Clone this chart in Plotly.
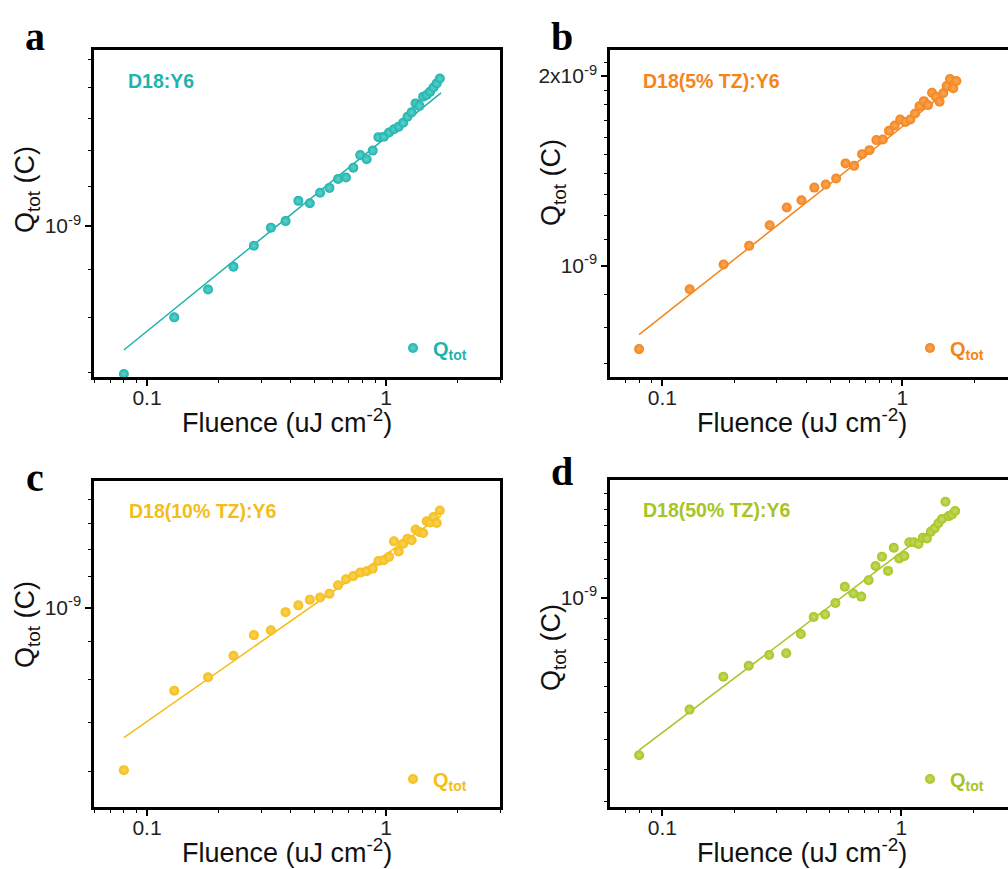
import plotly.graph_objects as go
import numpy as np

W, H = 1008, 869

# Fluence (uJ cm^-2), shared by all four panels
fluence = [0.08, 0.13, 0.18, 0.23, 0.28, 0.33, 0.38, 0.43, 0.48, 0.53, 0.58,
           0.63, 0.68, 0.73, 0.78, 0.83, 0.88, 0.93, 0.98, 1.03, 1.08, 1.13,
           1.18, 1.23, 1.28, 1.33, 1.38, 1.43, 1.48, 1.53, 1.58, 1.63, 1.68]

# Q_tot in units of 1e-9 C
q_a = [0.698, 0.801, 0.857, 0.906, 0.953, 0.996, 1.012, 1.063, 1.057, 1.084, 1.097,
       1.121, 1.125, 1.152, 1.188, 1.176, 1.201, 1.241, 1.242, 1.255, 1.265, 1.273,
       1.285, 1.304, 1.318, 1.347, 1.339, 1.369, 1.375, 1.386, 1.400, 1.414, 1.431]
q_b = [0.738, 0.918, 1.005, 1.076, 1.160, 1.238, 1.271, 1.331, 1.346, 1.376, 1.454,
       1.441, 1.504, 1.526, 1.583, 1.587, 1.638, 1.670, 1.707, 1.692, 1.707, 1.745,
       1.792, 1.825, 1.799, 1.882, 1.855, 1.821, 1.878, 1.929, 1.979, 1.913, 1.965]
q_c = [0.603, 0.772, 0.805, 0.861, 0.918, 0.932, 0.986, 1.007, 1.025, 1.032, 1.044,
       1.072, 1.092, 1.103, 1.115, 1.120, 1.129, 1.156, 1.159, 1.171, 1.229, 1.191,
       1.220, 1.239, 1.233, 1.275, 1.265, 1.261, 1.308, 1.303, 1.326, 1.301, 1.353]
q_d = [0.673, 0.755, 0.820, 0.843, 0.866, 0.870, 0.913, 0.953, 0.959, 0.987, 1.028,
       1.011, 1.003, 1.045, 1.083, 1.109, 1.070, 1.134, 1.104, 1.111, 1.150, 1.150,
       1.145, 1.163, 1.161, 1.181, 1.191, 1.206, 1.219, 1.273, 1.228, 1.233, 1.244]

# Power-law fit lines (end points), Q in 1e-9 C
fit_x = [0.08, 1.70]
fit_a = [0.740, 1.382]
fit_b = [0.778, 1.950]
fit_c = [0.667, 1.330]
fit_d = [0.682, 1.245]

labels = ["D18:Y6", "D18(5% TZ):Y6", "D18(10% TZ):Y6", "D18(50% TZ):Y6"]
letters = ["a", "b", "c", "d"]
colors = ["#1FB3AD", "#F5841A", "#F5BD17", "#A6C424"]
light = ["#5FD2CC", "#F9A85C", "#FAD45E", "#C6DD64"]

x_minor = [0.06, 0.07, 0.08, 0.09, 0.2, 0.3, 0.4, 0.5, 0.6, 0.7, 0.8, 0.9, 2, 3]

panels = [
    dict(q=q_a, fit=fit_a, xd=(94, 500), yd=(50, 377), xr=[np.log10(0.06), np.log10(3)],
         yr=[-9.1593, -8.8143], yt=[1e-9], ytt=["10<sup>-9</sup>"],
         ym=[0.7, 0.8, 0.9, 1.1, 1.2, 1.3, 1.4, 1.5], right=True,
         letter=(35, 36), lab=(126, 81), leg=(415, 348), ytitle=(27, 190), xtitle=(287, 421)),
    dict(q=q_b, fit=fit_b, xd=(610, 1008), yd=(50, 377), xr=[-1.218, 0.4404],
         yr=[-9.1762, -8.6576], yt=[1e-9, 2e-9], ytt=["10<sup>-9</sup>", "2x10<sup>-9</sup>"],
         ym=[0.7, 0.8, 0.9, 1.1, 1.2, 1.3, 1.4, 1.5, 1.6, 1.7, 1.8, 1.9, 2.1], right=False,
         letter=(562, 36), lab=(641, 81), leg=(932, 348), ytitle=(553, 183), xtitle=(802, 421)),
    dict(q=q_c, fit=fit_c, xd=(94, 500), yd=(481, 807), xr=[np.log10(0.06), np.log10(3)],
         yr=[-9.2695, -8.8289], yt=[1e-9], ytt=["10<sup>-9</sup>"],
         ym=[0.6, 0.7, 0.8, 0.9, 1.1, 1.2, 1.3, 1.4], right=True,
         letter=(35, 478), lab=(127, 511), leg=(415, 779), ytitle=(27, 625), xtitle=(287, 851)),
    dict(q=q_d, fit=fit_d, xd=(610, 1008), yd=(480, 807), xr=[-1.2188, 0.4464],
         yr=[-9.2284, -8.8714], yt=[1e-9], ytt=["10<sup>-9</sup>"],
         ym=[0.6, 0.65, 0.7, 0.75, 0.8, 0.85, 0.9, 0.95, 1.05, 1.1, 1.15, 1.2, 1.25, 1.3], right=False,
         letter=(562, 471), lab=(641, 510), leg=(932, 779), ytitle=(553, 648), xtitle=(802, 851)),
]

fig = go.Figure()
annotations = []
layout = {}
tickfont = dict(family="Liberation Sans, Arial", size=21, color="#222")
titlefont = dict(family="Liberation Sans, Arial", size=27, color="#111")

for i, p in enumerate(panels):
    n = "" if i == 0 else str(i + 1)
    xa, ya = "x" + n, "y" + n
    leg = "legend" + n
    c = colors[i]
    fig.add_trace(go.Scatter(x=fit_x, y=[v * 1e-9 for v in p["fit"]], mode="lines",
                             line=dict(color=c, width=1.5), xaxis=xa, yaxis=ya,
                             showlegend=False, hoverinfo="skip"))
    fig.add_trace(go.Scatter(x=fluence, y=[v * 1e-9 for v in p["q"]], mode="markers",
                             name="<b>Q<sub>tot</sub></b>", legend=leg,
                             marker=dict(size=10, color=c, line=dict(width=0),
                                         gradient=dict(type="radial", color=light[i])),
                             xaxis=xa, yaxis=ya))
    x0, x1 = p["xd"]
    y0, y1 = p["yd"]
    layout["xaxis" + n] = dict(
        type="log", domain=[x0 / W, x1 / W], range=p["xr"], anchor=ya,
        showline=True, linecolor="black", linewidth=2.5, mirror=True,
        ticks="outside", ticklen=6, tickwidth=1.6, tickcolor="black",
        tickvals=[0.1, 1], ticktext=["0.1", "1"], tickfont=tickfont,
        ticklabelstandoff=-6,
        minor=dict(tickvals=x_minor, ticks="outside", ticklen=3.5, tickwidth=1.4,
                   tickcolor="black", showgrid=False),
        showgrid=False, zeroline=False)
    layout["yaxis" + n] = dict(
        type="log", domain=[1 - y1 / H, 1 - y0 / H], range=p["yr"], anchor=xa,
        showline=True, linecolor="black", linewidth=2.5, mirror=p["right"],
        ticks="outside", ticklen=6, tickwidth=1.6, tickcolor="black",
        tickvals=p["yt"], ticktext=p["ytt"], tickfont=tickfont,
        minor=dict(tickvals=[v * 1e-9 for v in p["ym"]], ticks="outside", ticklen=3.5,
                   tickwidth=1.4, tickcolor="black", showgrid=False),
        showgrid=False, zeroline=False)
    lx, ly = p["leg"]
    layout[leg] = dict(x=(lx - 22) / W, y=1 - ly / H, xanchor="left", yanchor="middle",
                       bgcolor="rgba(0,0,0,0)", borderwidth=0,
                       font=dict(family="Liberation Sans, Arial", size=20, color=c))
    # panel letter
    annotations.append(dict(x=p["letter"][0] / W, y=1 - p["letter"][1] / H, xref="paper", yref="paper",
                            text="<b>%s</b>" % letters[i], showarrow=False,
                            font=dict(family="Liberation Serif, Times New Roman", size=40, color="black"),
                            xanchor="center", yanchor="middle"))
    # sample label
    annotations.append(dict(x=p["lab"][0] / W, y=1 - p["lab"][1] / H, xref="paper", yref="paper",
                            text="<b>%s</b>" % labels[i], showarrow=False,
                            font=dict(family="Liberation Sans, Arial", size=19.5, color=c),
                            xanchor="left", yanchor="middle"))
    # axis titles
    annotations.append(dict(x=p["xtitle"][0] / W, y=1 - p["xtitle"][1] / H, xref="paper", yref="paper",
                            text="Fluence (uJ cm<sup>-2</sup>)", showarrow=False, font=titlefont,
                            xanchor="center", yanchor="middle"))
    annotations.append(dict(x=p["ytitle"][0] / W, y=1 - p["ytitle"][1] / H, xref="paper", yref="paper",
                            text="Q<sub>tot</sub> (C)", showarrow=False, font=titlefont, textangle=-90,
                            xanchor="center", yanchor="middle"))

fig.update_layout(width=W, height=H, margin=dict(l=0, r=0, t=0, b=0),
                  paper_bgcolor="white", plot_bgcolor="white",
                  annotations=annotations, **layout)
fig.write_html("out.html")
